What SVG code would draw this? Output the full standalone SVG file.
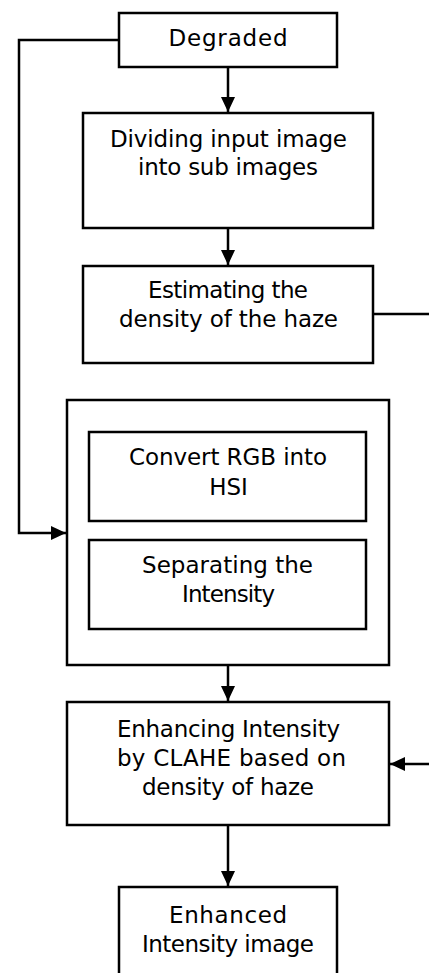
<svg xmlns="http://www.w3.org/2000/svg" width="429" height="973" viewBox="0 0 429 973">
<style>
.box{fill:#fff;stroke:#000;stroke-width:2.5}
.lbl{font-family:"DejaVu Sans",sans-serif;font-size:23px;fill:#000;text-anchor:middle}
.con{fill:none;stroke:#000;stroke-width:2.5}
</style>
<defs>
<marker id="arr" viewBox="0 0 15 14" refX="15" refY="7" markerWidth="15" markerHeight="14" markerUnits="userSpaceOnUse" orient="auto">
<path d="M0,0 L15,7 L0,14 Z" fill="#000"/>
</marker>
</defs>
<g id="connectors">
<path class="con" d="M228,67 V112" marker-end="url(#arr)"/>
<path class="con" d="M228,228 V265" marker-end="url(#arr)"/>
<path class="con" d="M228,665 V701" marker-end="url(#arr)"/>
<path class="con" d="M228,825 V886" marker-end="url(#arr)"/>
<path class="con" d="M119,40 H19 V533 H66" marker-end="url(#arr)"/>
<path class="con" d="M373,314 H430"/>
<path class="con" d="M430,764 H390" marker-end="url(#arr)"/>
</g>
<g id="degraded">
<rect class="box" x="119" y="13" width="218" height="54"/>
<text class="lbl" x="228" y="46" textLength="119" lengthAdjust="spacing">Degraded</text>
</g>
<g id="dividing">
<rect class="box" x="83" y="113" width="290" height="115"/>
<text class="lbl" x="228.5" y="147" textLength="237" lengthAdjust="spacing">Dividing input image</text>
<text class="lbl" x="228" y="175" textLength="180" lengthAdjust="spacing">into sub images</text>
</g>
<g id="estimating">
<rect class="box" x="83" y="266" width="290" height="97"/>
<text class="lbl" x="228" y="298" textLength="160" lengthAdjust="spacing">Estimating the</text>
<text class="lbl" x="228.5" y="327" textLength="219" lengthAdjust="spacing">density of the haze</text>
</g>
<g id="conversion">
<rect class="box" x="67" y="400" width="322" height="265"/>
</g>
<g id="convert">
<rect class="box" x="89" y="432" width="277" height="89"/>
<text class="lbl" x="228" y="465" textLength="198" lengthAdjust="spacing">Convert RGB into</text>
<text class="lbl" x="228.5" y="495">HSI</text>
</g>
<g id="separating">
<rect class="box" x="89" y="540" width="277" height="89"/>
<text class="lbl" x="227.5" y="573" textLength="171" lengthAdjust="spacing">Separating the</text>
<text class="lbl" x="228.5" y="602" textLength="93" lengthAdjust="spacing">Intensity</text>
</g>
<g id="enhancing">
<rect class="box" x="67" y="702" width="322" height="123"/>
<text class="lbl" x="228.5" y="737" textLength="223" lengthAdjust="spacing">Enhancing Intensity</text>
<text class="lbl" x="231.5" y="766" textLength="229" lengthAdjust="spacing">by CLAHE based on</text>
<text class="lbl" x="228" y="795" textLength="172" lengthAdjust="spacing">density of haze</text>
</g>
<g id="enhanced">
<rect class="box" x="119" y="887" width="218" height="100"/>
<text class="lbl" x="228" y="923" textLength="118" lengthAdjust="spacing">Enhanced</text>
<text class="lbl" x="228" y="952" textLength="172" lengthAdjust="spacing">Intensity image</text>
</g>
</svg>
